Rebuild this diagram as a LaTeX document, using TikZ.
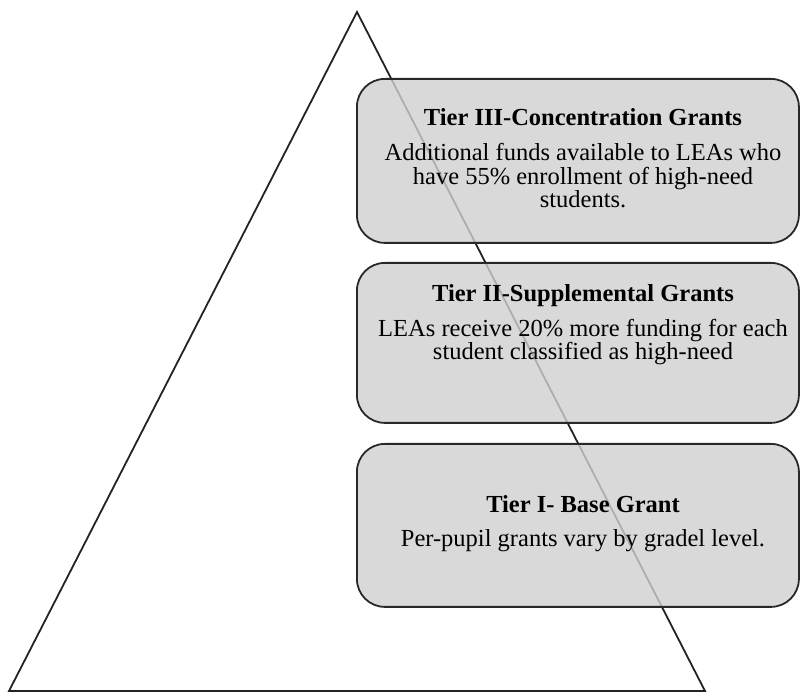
\documentclass[tikz,border=0pt]{standalone}
\usepackage{fontspec}
\setmainfont{Liberation Serif}
\definecolor{boxgray}{RGB}{208,208,208}
\definecolor{boxline}{RGB}{40,40,40}
\definecolor{triline}{RGB}{35,35,35}
\begin{document}
\begin{tikzpicture}[x=1pt,y=1pt,
  tier/.style={draw=boxline, line width=1.8pt, fill=boxgray, fill opacity=0.8,
    rounded corners=28pt, minimum width=442pt, inner sep=0pt, anchor=north west},
  head/.style={font=\fontsize{24.5}{23.5}\selectfont\bfseries, inner sep=0pt, anchor=base},
  body/.style={font=\fontsize{24.5}{23.5}\selectfont, align=center, inner sep=0pt, anchor=base}]
\useasboundingbox (0,0) rectangle (801,694);

% pyramid outline
\coordinate (apex) at (357,682);
\coordinate (bl) at (9,3);
\coordinate (br) at (705,3);
\draw[line width=1.8pt, draw=triline] (apex) -- (br) -- (bl) -- cycle;

% tier boxes
\node[tier, minimum height=164pt] (t3) at (356,616) {};
\node[tier, minimum height=160pt] (t2) at (356,432) {};
\node[tier, minimum height=163pt] (t1) at (356,251) {};

% tier III text (body anchored at its last baseline)
\node[head] (t3h) at (583,568) {Tier III-Concentration Grants};
\node[body] (t3b) at (583,486) {Additional funds available to LEAs who\\have 55\% enrollment of high-need\\students.};

% tier II text
\node[head] (t2h) at (583,392) {Tier II-Supplemental Grants};
\node[body] (t2b) at (583,334) {LEAs receive 20\% more funding for each\\student classified as high-need};

% tier I text
\node[head] (t1h) at (583,181) {Tier I- Base Grant};
\node[body] (t1b) at (583,147) {Per-pupil grants vary by gradel level.};
\end{tikzpicture}
\end{document}
